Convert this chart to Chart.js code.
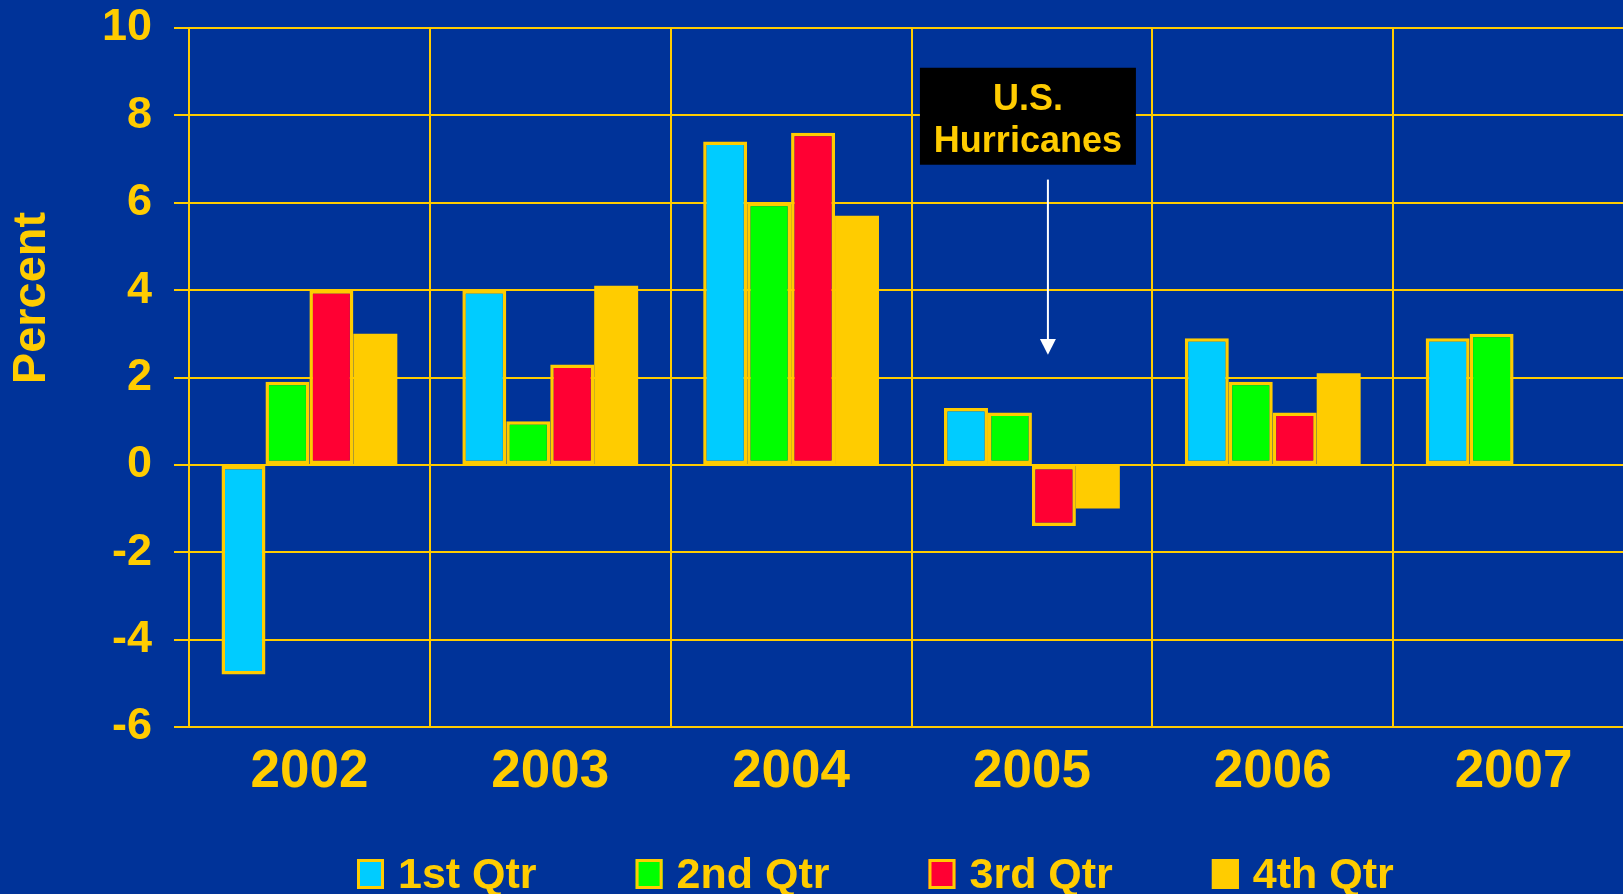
<!DOCTYPE html>
<html>
<head>
<meta charset="utf-8">
<script src="https://cdn.jsdelivr.net/npm/chart.js@4.4.1/dist/chart.umd.min.js"></script>
<style>
    html, body { margin: 0; padding: 0; background: #003399; overflow: hidden; }
    #wrap { width: 1640px; height: 894px; }
    canvas { display: block; background: #003399; }
</style>
</head>
<body>
<div id="wrap"><canvas id="chartPib" width="1640" height="894"></canvas></div>
<script>
// Datos del gráfico
const anios = ['2002', '2003', '2004', '2005', '2006', '2007'];
const trimestres = ['1st Qtr', '2nd Qtr', '3rd Qtr', '4th Qtr'];
const q1 = [-4.8, 4.0, 7.4, 1.3, 2.9, 2.9];
const q2 = [1.9, 1.0, 6.0, 1.2, 1.9, 3.0];
const q3 = [4.0, 2.3, 7.6, -1.4, 1.2, null];
const q4 = [3.0, 4.1, 5.7, -1.0, 2.1, null];
const ticksY = [-6, -4, -2, 0, 2, 4, 6, 8, 10];

const amarillo = '#ffcc00';
const colores = ['#00ccff', '#00ff00', '#ff0033', '#ffcc00'];
const fuente = "'Liberation Sans', Arial, Helvetica, sans-serif";

Chart.defaults.font.family = fuente;

// Título del eje Y, anotación y leyenda dibujados a mano
const extras = {
    id: 'extras',
    afterDraw(chart) {
        const ctx = chart.ctx;
        const x = chart.scales.x;
        const y = chart.scales.y;

        // "Percent"
        ctx.save();
        ctx.translate(32, 298);
        ctx.rotate(-Math.PI / 2);
        ctx.fillStyle = amarillo;
        ctx.font = 'bold 47px ' + fuente;
        ctx.textAlign = 'center';
        ctx.textBaseline = 'middle';
        ctx.fillText('Percent', 0, 0);
        ctx.restore();

        // Caja "U.S. Hurricanes" + flecha
        const cx = x.getPixelForValue(3);
        const top = y.getPixelForValue(9.09);
        const bottom = y.getPixelForValue(6.87);
        ctx.save();
        ctx.fillStyle = '#000000';
        ctx.fillRect(cx - 112, top, 216, bottom - top);
        ctx.fillStyle = amarillo;
        ctx.font = 'bold 36px ' + fuente;
        ctx.textAlign = 'center';
        ctx.textBaseline = 'middle';
        ctx.fillText('U.S.', cx - 4, y.getPixelForValue(8.36));
        ctx.fillText('Hurricanes', cx - 4, y.getPixelForValue(7.40));

        const ax = cx + 16;
        const y0 = y.getPixelForValue(6.53);
        const yTip = y.getPixelForValue(2.52);
        const yBase = y.getPixelForValue(2.88);
        ctx.strokeStyle = '#ffffff';
        ctx.fillStyle = '#ffffff';
        ctx.lineWidth = 2;
        ctx.beginPath();
        ctx.moveTo(ax, y0);
        ctx.lineTo(ax, yBase);
        ctx.stroke();
        ctx.beginPath();
        ctx.moveTo(ax - 8, yBase);
        ctx.lineTo(ax + 8, yBase);
        ctx.lineTo(ax, yTip);
        ctx.closePath();
        ctx.fill();
        ctx.restore();

        // Leyenda
        ctx.save();
        ctx.font = 'bold 43px ' + fuente;
        ctx.textBaseline = 'alphabetic';
        ctx.textAlign = 'left';
        let lx = 357;
        chart.data.datasets.forEach(ds => {
            ctx.fillStyle = ds.backgroundColor;
            ctx.fillRect(lx, 859, 27, 30);
            ctx.strokeStyle = amarillo;
            ctx.lineWidth = 3;
            ctx.strokeRect(lx + 1.5, 860.5, 24, 27);
            ctx.fillStyle = amarillo;
            ctx.fillText(ds.label, lx + 41, 888);
            lx += 41 + ctx.measureText(ds.label).width + 99;
        });
        ctx.restore();
    }
};

const series = [q1, q2, q3, q4];

const chartPib = new Chart(document.getElementById('chartPib').getContext('2d'), {
    type: 'bar',
    data: {
        labels: anios,
        datasets: series.map((valores, i) => ({
            label: trimestres[i],
            data: valores,
            backgroundColor: colores[i],
            borderColor: amarillo,
            // la serie amarilla no necesita borde (mismo color)
            borderWidth: colores[i] === amarillo ? 0 : 3.5,
            borderSkipped: false,
            barPercentage: 1,
            categoryPercentage: 0.73
        }))
    },
    options: {
        responsive: false,
        animation: false,
        layout: {
            padding: { left: 0, right: 6, top: 28, bottom: 0 }
        },
        plugins: {
            legend: { display: false },
            tooltip: { enabled: false }
        },
        scales: {
            x: {
                grid: {
                    color: amarillo,
                    lineWidth: 2,
                    drawTicks: false
                },
                border: { color: amarillo, width: 2 },
                ticks: {
                    color: amarillo,
                    padding: 14,
                    font: { size: 53, weight: 'bold' }
                },
                afterFit(scale) {
                    scale.height = 167;
                }
            },
            y: {
                min: -6,
                max: 10,
                afterBuildTicks(scale) {
                    scale.ticks = ticksY.map(v => ({ value: v }));
                },
                grid: {
                    color: amarillo,
                    lineWidth: 2,
                    tickLength: 15
                },
                border: { color: amarillo, width: 2 },
                ticks: {
                    color: amarillo,
                    padding: 22,
                    font: { size: 45, weight: 'bold' }
                },
                afterFit(scale) {
                    scale.width = 189;
                    scale.paddingTop = 0;
                    scale.paddingBottom = 0;
                }
            }
        }
    },
    plugins: [extras]
});
</script>
</body>
</html>
